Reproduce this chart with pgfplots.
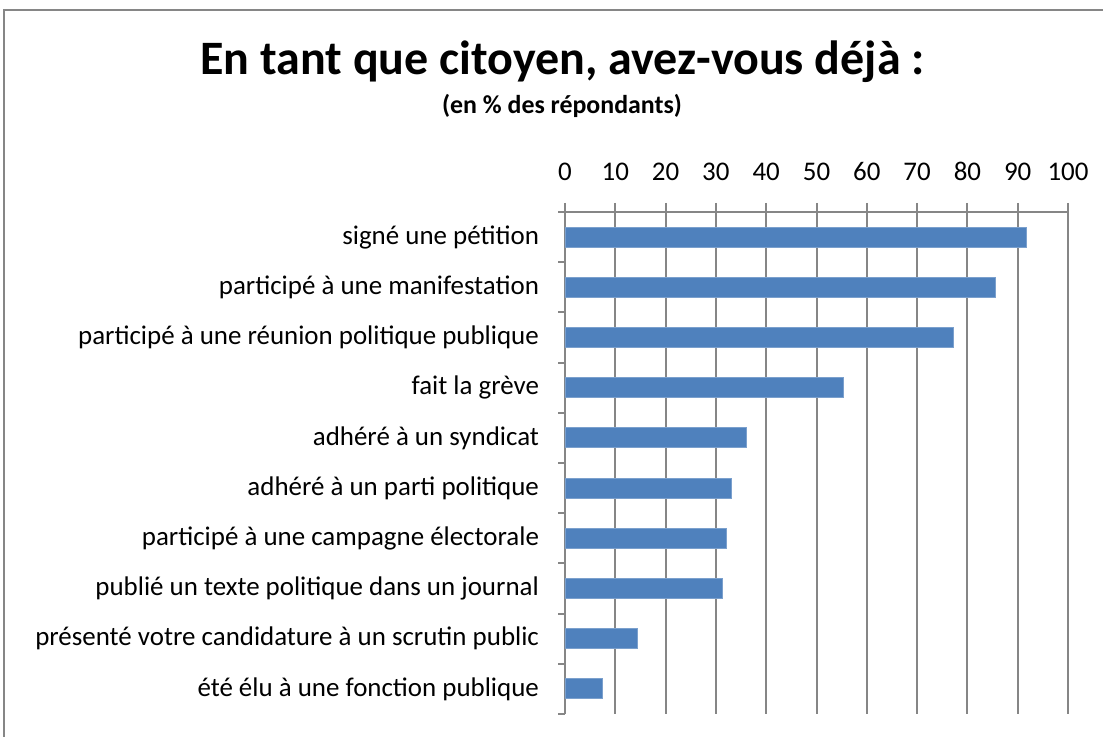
\documentclass[border=0pt]{standalone}
\usepackage{fontspec}
\setmainfont{Carlito}
\usepackage{pgfplots}
\pgfplotsset{compat=1.18}
\definecolor{barblue}{HTML}{4F81BD}
\definecolor{axgray}{HTML}{868686}
\begin{document}
\begin{tikzpicture}[x=1pt,y=1pt]
\useasboundingbox (0,0) rectangle (827.25,552.75);
\draw[axgray, line width=1.2pt] (3,-2) -- (3,545.25) -- (830,545.25);
\node[anchor=base, inner sep=0pt, font=\bfseries\fontsize{36}{42}\selectfont] at (421.9,496.5) {En tant que citoyen, avez-vous déjà :};
\node[anchor=base, inner sep=0pt, font=\bfseries\fontsize{19.4}{23}\selectfont] at (421.5,467.25) {(en \% des répondants)};
\begin{axis}[
  at={(423.75pt,17.25pt)}, anchor=south west,
  scale only axis, width=377.25pt, height=376.5pt,
  xbar, bar width=15pt,
  xmin=0, xmax=100, ymin=0.5, ymax=10.5,
  axis x line*=top, axis y line*=left,
  axis line style={draw=axgray, line width=1.5pt},
  xtick={0,10,...,100},
  xmajorgrids, grid style={draw=axgray, line width=1.5pt},
  tick align=outside,
  major tick length=6.75pt, minor tick length=5.25pt,
  x tick style={draw=axgray, line width=1.5pt},
  ytick={1,...,10},
  yticklabels={été élu à une fonction publique, présenté votre candidature à un scrutin public, publié un texte politique dans un journal, participé à une campagne électorale, adhéré à un parti politique, adhéré à un syndicat, fait la grève, participé à une réunion politique publique, participé à une manifestation, signé une pétition},
  major y tick style={draw=none},
  minor ytick={0.5,1.5,...,10.5},
  minor y tick style={draw=axgray, line width=1.5pt},
  yticklabel style={font=\fontsize{20.2}{24}\selectfont, anchor=east, xshift=-9.25pt},
  xticklabel style={font=\fontsize{20.2}{24}\selectfont, yshift=13.5pt},
  /pgf/number format/assume math mode=true,
]
\addplot[fill=barblue, draw=barblue!75!white, line width=0.6pt] coordinates {
(7.5,1) (14.4,2) (31.3,3) (32.0,4) (33.0,5) (36.0,6) (55.3,7) (77.3,8) (85.6,9) (91.8,10)
};
\end{axis}
\end{tikzpicture}
\end{document}
